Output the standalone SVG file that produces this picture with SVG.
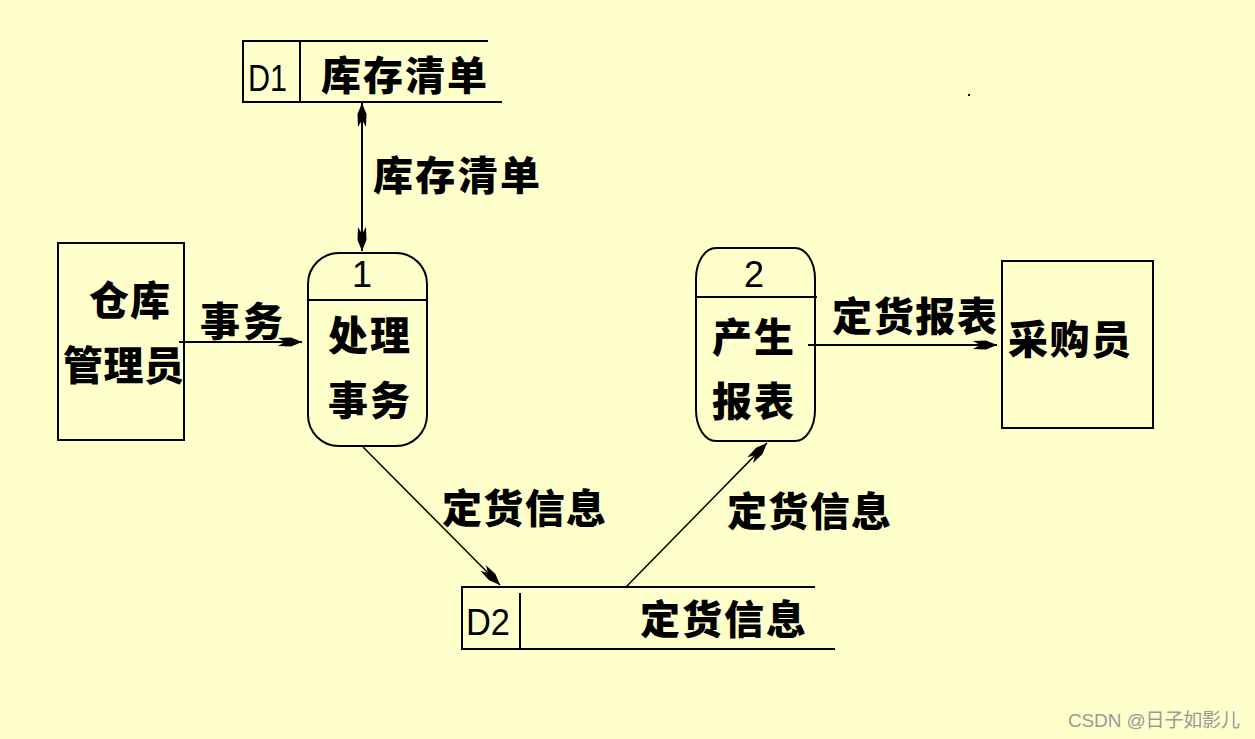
<svg xmlns="http://www.w3.org/2000/svg" width="1255" height="739" viewBox="0 0 1255 739">
<style>
.bg{fill:#FFFFCC}
.box{fill:none;stroke:#000;stroke-width:2}
.cn{font-family:"Noto Sans CJK SC","Noto Sans",sans-serif;font-weight:900;font-size:40px;fill:#000}
.lat{font-family:"Liberation Sans",Arial,sans-serif;font-size:36px;fill:#000}
.flow{fill:none;stroke:#000;stroke-width:2}
.diag{fill:none;stroke:#000;stroke-width:1.5}
.wm{font-family:"Liberation Sans","Noto Sans CJK SC",sans-serif;font-size:19px;fill:#9a9a9a}
</style>
<defs>
<marker id="ah" markerUnits="userSpaceOnUse" markerWidth="24" markerHeight="12" refX="24" refY="6" orient="auto-start-reverse" viewBox="0 0 24 12">
<path d="M0,2 L13,1.5 L24,6 L13,10.5 L0,10 L7,6 Z" fill="#000"/>
</marker>
</defs>
<rect class="bg" x="0" y="0" width="1255" height="739"/>
<rect x="968" y="94" width="2" height="2" fill="#000"/>

<g id="D1">
<path class="box" d="M488,41 L243,41 L243,102 L502,102 M300,41 L300,102"/>
<text class="lat" x="248" y="91" textLength="39" lengthAdjust="spacingAndGlyphs">D1</text>
<text class="cn" x="321" y="90" textLength="166" lengthAdjust="spacing">库存清单</text>
</g>

<g id="E1">
<rect class="box" x="58" y="243" width="126" height="197"/>
<text class="cn" x="89" y="315" textLength="81" lengthAdjust="spacing">仓库</text>
<text class="cn" x="63" y="380" textLength="121" lengthAdjust="spacing">管理员</text>
</g>

<g id="P1">
<rect class="box" x="308" y="253" width="119" height="193" rx="31" ry="31"/>
<line class="box" x1="308" y1="300" x2="427" y2="300"/>
<text class="lat" x="362" y="287" text-anchor="middle" font-size="40">1</text>
<text class="cn" x="328" y="350" textLength="82" lengthAdjust="spacing">处理</text>
<text class="cn" x="328" y="415" textLength="82" lengthAdjust="spacing">事务</text>
</g>

<g id="P2">
<rect class="box" x="696" y="248" width="119" height="193" rx="20" ry="31"/>
<line class="box" x1="696" y1="297" x2="817" y2="297"/>
<text class="lat" x="754" y="287" text-anchor="middle">2</text>
<text class="cn" x="712" y="352" textLength="82" lengthAdjust="spacing">产生</text>
<text class="cn" x="712" y="416" textLength="82" lengthAdjust="spacing">报表</text>
</g>

<g id="E2">
<rect class="box" x="1002" y="261" width="151" height="167"/>
<text class="cn" x="1008" y="354" textLength="123" lengthAdjust="spacing">采购员</text>
</g>

<g id="D2">
<path class="box" d="M815,587 L462,587 L462,649 L835,649 M520,593 L520,649"/>
<text class="lat" x="466" y="635" textLength="44" lengthAdjust="spacingAndGlyphs">D2</text>
<text class="cn" x="640" y="634" textLength="166" lengthAdjust="spacing">定货信息</text>
</g>

<g id="connectors">
<line class="flow" x1="362" y1="103" x2="362" y2="251" marker-start="url(#ah)" marker-end="url(#ah)"/>
<line class="flow" x1="179" y1="342" x2="302" y2="342" marker-end="url(#ah)"/>
<line class="flow" x1="808" y1="345" x2="997" y2="345" marker-end="url(#ah)"/>
<line class="diag" x1="363" y1="447" x2="500" y2="585" marker-end="url(#ah)"/>
<line class="diag" x1="626" y1="587" x2="767" y2="443" marker-end="url(#ah)"/>
<text class="cn" x="373" y="190" textLength="167" lengthAdjust="spacing">库存清单</text>
<text class="cn" x="200" y="336" textLength="83" lengthAdjust="spacing">事务</text>
<text class="cn" x="832" y="331" textLength="165" lengthAdjust="spacing">定货报表</text>
<text class="cn" x="442" y="523" textLength="164" lengthAdjust="spacing">定货信息</text>
<text class="cn" x="727" y="526" textLength="164" lengthAdjust="spacing">定货信息</text>
</g>

<text class="wm" x="1068" y="727" textLength="172" lengthAdjust="spacing">CSDN @日子如影儿</text>
</svg>
